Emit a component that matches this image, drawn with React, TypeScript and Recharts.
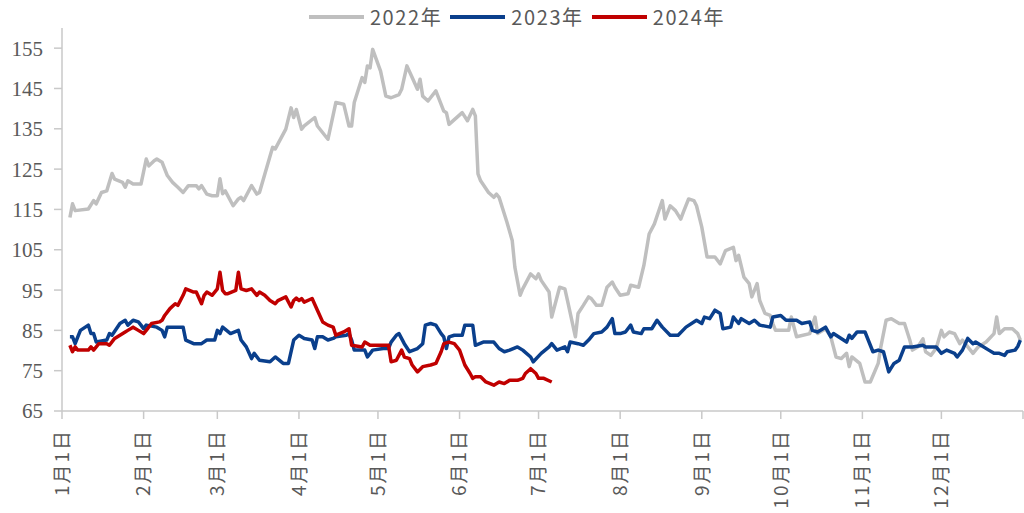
import React from "react";
import { LineChart, Line, XAxis, YAxis } from "recharts";

// Day-of-year positions of the month starts (tick positions) and their labels
const monthStartDays = [0, 31, 59, 90, 120, 151, 181, 212, 243, 273, 304, 334, 365];
const monthLabels = ["1月1日", "2月1日", "3月1日", "4月1日", "5月1日", "6月1日", "7月1日", "8月1日", "9月1日", "10月1日", "11月1日", "12月1日", ""];
const yTicks = [65, 75, 85, 95, 105, 115, 125, 135, 145, 155];

const seriesNames = ["2022年", "2023年", "2024年"];
const seriesColors = ["#BFBFBF", "#0A3F8C", "#C00000"];

const days2022 = [3,4,5,10,12,13,15,17,19,20,23,24,25,27,30,32,33,35,36,38,40,42,44,46,48,51,52,53,55,57,59,60,61,62,65,67,68,69,72,74,75,80,81,85,87,88,89,91,92,96,97,101,104,107,109,110,111,114,115,116,117,118,121,123,125,128,129,131,133,135,136,137,139,142,145,146,147,152,154,156,157,158,159,162,164,165,166,169,171,172,174,175,178,180,181,182,185,186,189,191,192,195,196,198,200,201,203,205,207,209,210,212,215,216,219,221,223,225,228,229,231,233,235,236,238,240,241,243,245,248,250,252,255,256,257,259,261,262,264,265,267,269,270,271,276,277,279,284,286,287,290,292,294,296,298,299,300,303,305,307,310,311,313,315,318,320,322,323,325,327,328,330,332,334,335,337,339,341,342,346,348,351,354,355,356,358,361,363,364];
const values2022 = [113.0,116.4,114.7,115.1,117.2,116.4,119.2,119.6,123.9,122.5,121.7,120.5,122.1,121.3,121.3,127.5,125.8,127.1,127.5,126.7,123.4,121.7,120.5,119.2,120.9,120.9,120.1,120.9,118.8,118.4,118.4,122.6,118.9,119.6,115.9,117.6,118.0,117.2,120.9,118.8,119.2,130.4,130.0,134.9,140.2,137.8,139.8,134.9,135.7,137.8,135.7,132.4,141.5,141.1,135.7,135.7,141.5,147.7,146.5,150.6,150.1,154.7,149.3,143.1,142.7,143.5,144.8,150.6,147.7,144.8,147.3,143.1,141.9,144.4,139.4,139.0,136.1,139.0,137.0,139.8,138.2,123.8,122.1,119.2,118.0,118.8,118.0,111.8,107.3,100.7,93.7,95.3,99.0,97.8,99.0,97.4,94.5,88.3,95.7,95.3,92.4,83.4,89.2,91.2,93.3,92.9,91.2,91.2,95.7,97.0,95.7,93.7,94.1,96.2,95.7,101.1,108.9,111.4,117.2,112.6,115.9,114.7,112.6,114.3,117.6,117.2,115.9,110.6,103.2,103.2,101.5,104.8,105.6,102.3,103.6,98.2,96.6,93.3,96.6,92.4,89.2,88.7,86.7,85.0,85.0,88.3,83.4,84.2,88.3,84.2,85.4,83.4,78.4,78.0,79.3,76.0,78.4,76.8,72.2,72.2,76.8,80.9,87.5,87.9,86.7,86.7,82.6,80.1,80.9,82.9,79.7,78.8,80.5,85.0,83.4,84.6,84.2,81.7,82.6,79.3,80.9,82.1,84.2,88.3,84.2,85.4,85.4,84.2,82.6];

const days2023 = [3,4,5,6,7,10,11,12,13,17,18,19,22,24,25,27,29,30,31,32,36,38,39,40,46,47,50,53,55,58,59,60,61,64,67,68,70,72,73,75,79,81,84,86,88,90,92,95,96,97,99,101,103,104,108,109,110,111,114,115,116,118,122,124,125,127,128,130,132,135,137,138,140,142,144,145,146,147,149,152,153,156,157,160,164,166,168,170,173,175,178,179,182,185,186,188,191,192,193,196,198,200,202,205,207,209,210,212,214,216,217,220,221,224,226,228,231,234,237,241,243,244,246,248,250,251,254,255,257,258,261,263,265,269,270,273,275,279,281,284,285,287,290,292,293,298,299,300,302,305,308,310,312,314,316,318,320,323,327,328,332,334,336,339,340,342,344,346,347,349,352,354,356,358,359,362,363,364];
const values2023 = [83.4,83.4,81.7,83.4,85.0,86.3,84.2,84.2,82.1,82.6,84.2,83.8,86.7,87.5,86.3,87.5,87.1,86.3,85.4,86.3,85.8,85.0,83.4,85.8,85.8,82.6,81.7,81.7,82.6,82.6,85.0,84.2,85.8,84.2,85.0,82.6,80.9,78.0,79.3,77.6,77.2,78.4,76.8,76.8,82.6,83.8,83.0,82.6,80.5,83.4,83.4,82.6,83.0,83.4,83.8,84.2,82.6,80.1,80.1,80.1,78.4,80.1,80.5,80.5,82.1,83.8,84.2,81.7,79.7,80.5,81.7,86.3,86.7,86.3,84.2,83.4,80.5,83.4,83.8,83.8,86.3,86.3,81.3,82.1,82.1,80.5,79.7,80.1,80.9,80.1,78.4,77.2,79.3,80.9,81.7,80.1,80.9,79.7,82.1,81.7,81.3,82.6,84.2,84.6,85.8,87.9,84.2,84.2,84.6,86.3,84.6,84.2,85.4,85.4,87.5,85.8,83.8,83.8,85.8,87.5,86.7,88.3,87.9,90.0,89.2,85.4,85.8,88.3,86.7,87.9,86.7,87.5,86.3,85.8,88.3,88.7,87.5,87.5,86.7,87.1,85.0,84.6,85.8,83.4,84.2,82.1,83.8,83.0,84.6,84.6,79.7,80.1,79.7,74.7,76.8,77.6,80.9,80.9,81.3,80.9,80.9,79.3,80.1,79.3,78.4,80.1,83.0,81.7,82.1,81.3,80.1,79.3,79.3,78.8,79.7,80.1,81.0,82.6];

const days2024 = [3,4,5,6,10,11,12,14,17,18,20,24,25,27,29,31,32,34,37,38,39,41,43,44,46,47,50,51,53,54,55,57,59,60,61,62,63,66,67,68,70,72,74,75,77,79,81,82,85,87,88,89,90,91,92,95,97,99,101,103,104,107,109,110,114,115,117,122,124,125,127,129,130,132,133,135,137,140,142,144,145,147,149,151,153,155,156,157,159,161,164,166,168,170,173,175,176,178,180,181,183,186];
const values2024 = [81.3,79.7,80.9,80.1,80.1,80.9,80.1,81.7,81.7,81.3,83.0,84.6,85.0,85.8,85.0,84.2,85.0,86.7,87.1,87.5,88.7,90.4,91.6,91.2,93.7,95.3,94.5,94.5,91.6,93.7,94.5,93.7,95.3,99.4,94.9,94.1,94.1,94.9,99.4,95.3,94.9,95.3,93.7,94.5,93.7,92.4,91.6,92.4,93.3,90.8,92.4,93.0,92.4,92.9,92.0,92.9,90.0,87.1,86.3,85.8,83.8,84.6,85.4,81.3,80.9,82.1,81.3,81.3,81.3,77.2,77.6,80.1,78.4,78.0,76.4,74.7,76.0,76.4,76.8,79.7,81.7,82.1,81.7,80.1,76.4,74.3,73.1,73.5,73.5,72.2,71.4,72.2,71.8,72.6,72.6,73.1,74.3,75.5,74.3,73.1,73.1,72.2];

const toRows = (days: number[], values: number[]) => days.map((d, i) => ({ day: d, value: values[i] }));
const data2022 = toRows(days2022, values2022);
const data2023 = toRows(days2023, values2023);
const data2024 = toRows(days2024, values2024);
const seriesData = [data2022, data2023, data2024];

const AXIS_COLOR = "#C9C9C9";
const TEXT_COLOR = "#595959";

const XTick = (props: any) => {
  const { x, y, index } = props;
  const label = monthLabels[index] ?? "";
  return (
    <g transform={`translate(${x},${y})`}>
      <text
        transform="rotate(-90)"
        textAnchor="end"
        dy="0.36em"
        fill={TEXT_COLOR}
        fontSize={19}
        letterSpacing={2}
        fontFamily="'Noto Sans CJK SC', sans-serif"
      >
        {label}
      </text>
    </g>
  );
};

export default function App() {
  return (
    <div style={{ position: "absolute", left: 0, top: 0, width: 1024, height: 513, background: "#fff" }}>
      <LineChart width={1024} height={513} margin={{ top: 28, right: 1, left: 0, bottom: 0 }}>
        <XAxis
          dataKey="day"
          type="number"
          domain={[0, 365]}
          ticks={monthStartDays}
          interval={0}
          height={102}
          tickSize={8}
          tickMargin={10}
          axisLine={{ stroke: AXIS_COLOR, strokeWidth: 1.5 }}
          tickLine={{ stroke: AXIS_COLOR, strokeWidth: 1.5 }}
          tick={<XTick />}
          allowDataOverflow
        />
        <YAxis
          type="number"
          domain={[65, 160]}
          ticks={yTicks}
          interval={0}
          width={62}
          tickSize={8}
          tickMargin={11}
          axisLine={{ stroke: AXIS_COLOR, strokeWidth: 1.5 }}
          tickLine={{ stroke: AXIS_COLOR, strokeWidth: 1.5 }}
          tick={{ fill: TEXT_COLOR, fontSize: 21, fontFamily: "'Liberation Serif', 'Times New Roman', serif" }}
          allowDataOverflow
        />
        {seriesData.map((d, i) => (
          <Line
            key={seriesNames[i]}
            data={d}
            dataKey="value"
            name={seriesNames[i]}
            type="linear"
            stroke={seriesColors[i]}
            strokeWidth={3.5}
            strokeLinejoin="round"
            dot={false}
            activeDot={false}
            isAnimationActive={false}
          />
        ))}
      </LineChart>
      <div
        style={{
          position: "absolute",
          top: 4,
          left: 5,
          width: 1024,
          display: "flex",
          justifyContent: "center",
          alignItems: "center",
          fontFamily: "'Noto Sans CJK SC', sans-serif",
          fontSize: 20,
          color: TEXT_COLOR,
          lineHeight: "26px",
        }}
      >
        {seriesNames.map((n, i) => (
          <div key={n} style={{ display: "flex", alignItems: "center", marginRight: i < 2 ? 8 : 0 }}>
            <div style={{ width: 55, height: 4, background: seriesColors[i], marginRight: 6 }} />
            <span style={{ letterSpacing: 1.6 }}>{n}</span>
          </div>
        ))}
      </div>
    </div>
  );
}
